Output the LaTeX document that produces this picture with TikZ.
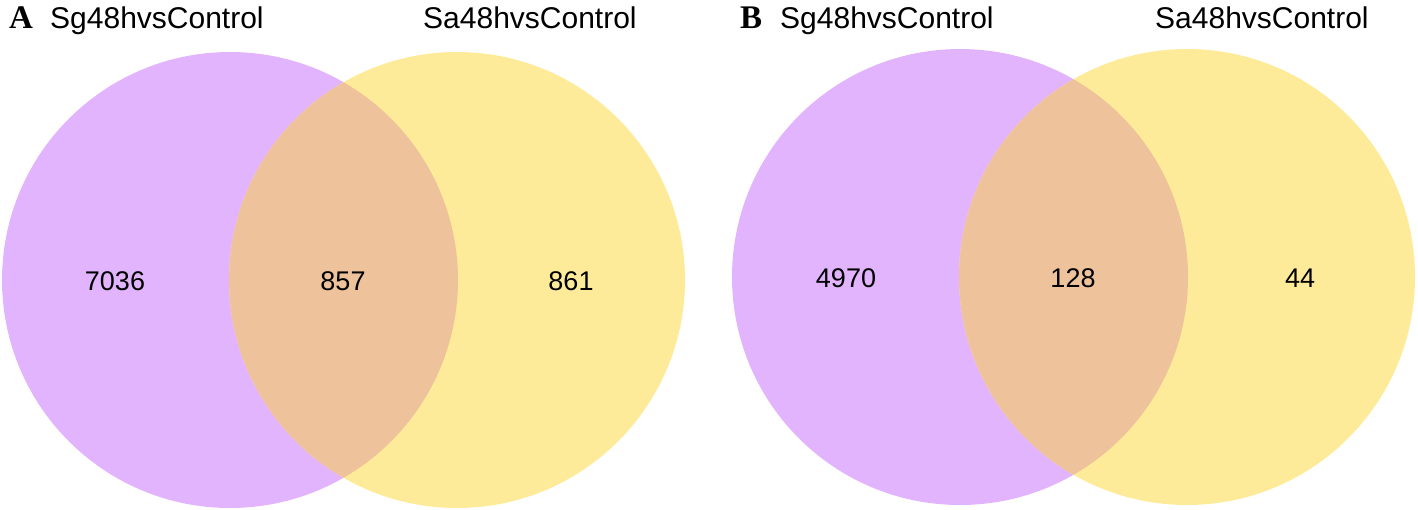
\documentclass[tikz,border=0pt]{standalone}
\usepackage{fontspec}
\setmainfont{Liberation Sans}
\newfontfamily\panelfont{Liberation Serif}
\definecolor{vpurple}{RGB}{227,180,254}
\definecolor{vyellow}{RGB}{254,235,154}
\definecolor{voverlap}{RGB}{238,194,154}
\begin{document}
\begin{tikzpicture}[x=1pt,y=-1pt,
  setlabel/.style={anchor=base west,inner sep=0pt,font=\fontsize{30}{35}\selectfont},
  panellabel/.style={anchor=base west,inner sep=0pt,font=\panelfont\bfseries\fontsize{33}{38}\selectfont},
  count/.style={anchor=center,inner sep=0pt,font=\fontsize{27}{32}\selectfont}]
\path[use as bounding box] (0,0) rectangle (1418,509);
% Panel A
\coordinate (pa) at (230,280);
\coordinate (ya) at (457,280);
\fill[vpurple] (pa) circle[radius=228pt];
\fill[vyellow] (ya) circle[radius=228pt];
\begin{scope}
  \clip (pa) circle[radius=228pt];
  \fill[voverlap] (ya) circle[radius=228pt];
\end{scope}
% Panel B
\coordinate (pb) at (960,277);
\coordinate (yb) at (1187,277);
\fill[vpurple] (pb) circle[radius=228pt];
\fill[vyellow] (yb) circle[radius=228pt];
\begin{scope}
  \clip (pb) circle[radius=228pt];
  \fill[voverlap] (yb) circle[radius=228pt];
\end{scope}
% labels
\node[panellabel] (labA) at (9,28) {A};
\node[setlabel] (sgA) at (50,28) {Sg48hvsControl};
\node[setlabel] (saA) at (423,28) {Sa48hvsControl};
\node[panellabel] (labB) at (740,28) {B};
\node[setlabel] (sgB) at (780,28) {Sg48hvsControl};
\node[setlabel] (saB) at (1155,28) {Sa48hvsControl};
% counts
\node[count] (a1) at (115,281) {7036};
\node[count] (a2) at (343,281) {857};
\node[count] (a3) at (571,281) {861};
\node[count] (b1) at (846,278) {4970};
\node[count] (b2) at (1073,278) {128};
\node[count] (b3) at (1300,278) {44};
\end{tikzpicture}
\end{document}
